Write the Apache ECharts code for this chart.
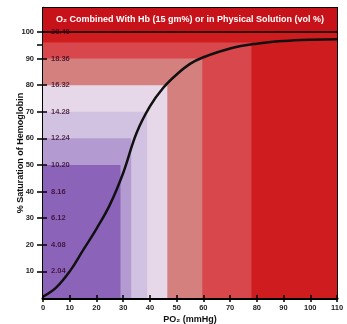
<!DOCTYPE html>
<html>
<head>
<meta charset="utf-8">
<script src="https://cdn.jsdelivr.net/npm/echarts@6/dist/echarts.min.js"></script>
<style>
  html, body { margin: 0; padding: 0; background: #fff; }
  #chart { width: 347px; height: 324px; }
</style>
</head>
<body>
<div id="chart"></div>
<script>
// dissociation curve
var po2 = [0, 5, 10, 15, 20, 25, 30, 35, 40, 45, 50, 55, 60, 70, 80, 90, 100, 110]
var sat = [0.5, 4, 10, 18, 26, 35, 47, 62, 72, 79, 84, 88, 90.5, 93.8, 95.6, 96.6, 97.1, 97.3]

// coloured blocks, each one from the origin up to (po2, saturation)
var blockPo2 = [110, 78, 59.6, 46.5, 39, 33, 29]
var blockSat = [100, 96, 90, 80, 70, 60, 50]
var blockColors = ['#cf1d1f', '#d8474b', '#d4807f', '#e6d8e9', '#d2c2e2', '#b39bd2', '#8b63b9']

var yTicks = [10, 20, 30, 40, 50, 60, 70, 80, 90, 100]
var titleText = 'O₂ Combined With Hb (15 gm%) or in Physical Solution (vol %)'

var font = "'Liberation Sans', Arial, sans-serif"
var myChart = echarts.init(document.getElementById('chart'))

var areas = blockPo2.map(function (p, i) {
  return [
    { xAxis: 0, yAxis: 0, itemStyle: { color: blockColors[i] } },
    { xAxis: p, yAxis: blockSat[i] }
  ]
})
// title band on top
areas.push([
  {
    xAxis: 0, yAxis: 100,
    itemStyle: { color: '#c8121a' },
    label: {
      show: true, position: 'inside', formatter: titleText,
      color: '#fff', fontWeight: 'bold', fontSize: 9, fontFamily: font
    }
  },
  { xAxis: 110, yAxis: 109 }
])

var options = {
  animation: false,
  grid: {
    left: 43, right: 10, top: 8, bottom: 26,
    outerBoundsMode: 'none',
    show: true, borderColor: '#000', borderWidth: 2, backgroundColor: 'transparent'
  },
  xAxis: [
    {
      type: 'value', min: 0, max: 110, interval: 10,
      name: 'PO₂ (mmHg)', nameLocation: 'middle', nameGap: 17, nameMoveOverlap: false,
      nameTextStyle: { fontWeight: 'bold', fontSize: 9, fontFamily: font, color: '#111' },
      axisLine: { show: true, lineStyle: { color: '#000', width: 3 } },
      axisTick: { show: true, length: 4, lineStyle: { color: '#000', width: 1.5 } },
      axisLabel: { fontSize: 7.5, fontWeight: 'bold', fontFamily: font, color: '#222', margin: 6 },
      splitLine: { show: false }
    },
    {
      type: 'value', min: 0, max: 110, interval: 10, position: 'bottom', z: 10,
      axisLine: { show: false },
      axisTick: { show: true, inside: true, length: 3, lineStyle: { color: '#000', width: 1.5 } },
      axisLabel: { show: false },
      splitLine: { show: false }
    }
  ],
  yAxis: [
    {
      type: 'value', min: 0, max: 109, interval: 10,
      name: '% Saturation of Hemoglobin', nameLocation: 'middle', nameGap: 18, nameMoveOverlap: false,
      nameTextStyle: { fontWeight: 'bold', fontSize: 9, fontFamily: font, color: '#111' },
      axisLine: { show: true, lineStyle: { color: '#000', width: 2.5 } },
      axisTick: { show: true, length: 6, customValues: yTicks.concat([95]), lineStyle: { color: '#000', width: 1.5 } },
      axisLabel: { customValues: yTicks, fontSize: 7.5, fontWeight: 'bold', fontFamily: font, color: '#222', margin: 9 },
      splitLine: { show: false }
    },
    {
      type: 'value', min: 0, max: 109, interval: 10, position: 'left', z: 10,
      axisLine: { show: false },
      axisTick: { show: true, inside: true, length: 4, customValues: yTicks, lineStyle: { color: '#000', width: 1.5 } },
      axisLabel: {
        inside: true, customValues: yTicks, margin: 8,
        fontSize: 7.5, fontWeight: 'bold', fontFamily: font, color: 'rgba(45,0,30,0.78)',
        formatter: function (v) { return (v * 0.204).toFixed(2) }
      },
      splitLine: { show: false }
    }
  ],
  series: [
    {
      type: 'line',
      z: 1,
      data: [],
      markArea: { silent: true, data: areas },
      markLine: {
        silent: true, symbol: 'none', label: { show: false },
        lineStyle: { color: '#000', width: 1.5, type: 'solid' },
        data: [{ yAxis: 100 }]
      }
    },
    {
      name: 'HbO2',
      type: 'line',
      z: 5,
      smooth: 0.4,
      symbol: 'none',
      lineStyle: { color: '#111', width: 2.5 },
      data: po2.map(function (p, i) { return [p, sat[i]] })
    }
  ]
}
myChart.setOption(options)
</script>
</body>
</html>
